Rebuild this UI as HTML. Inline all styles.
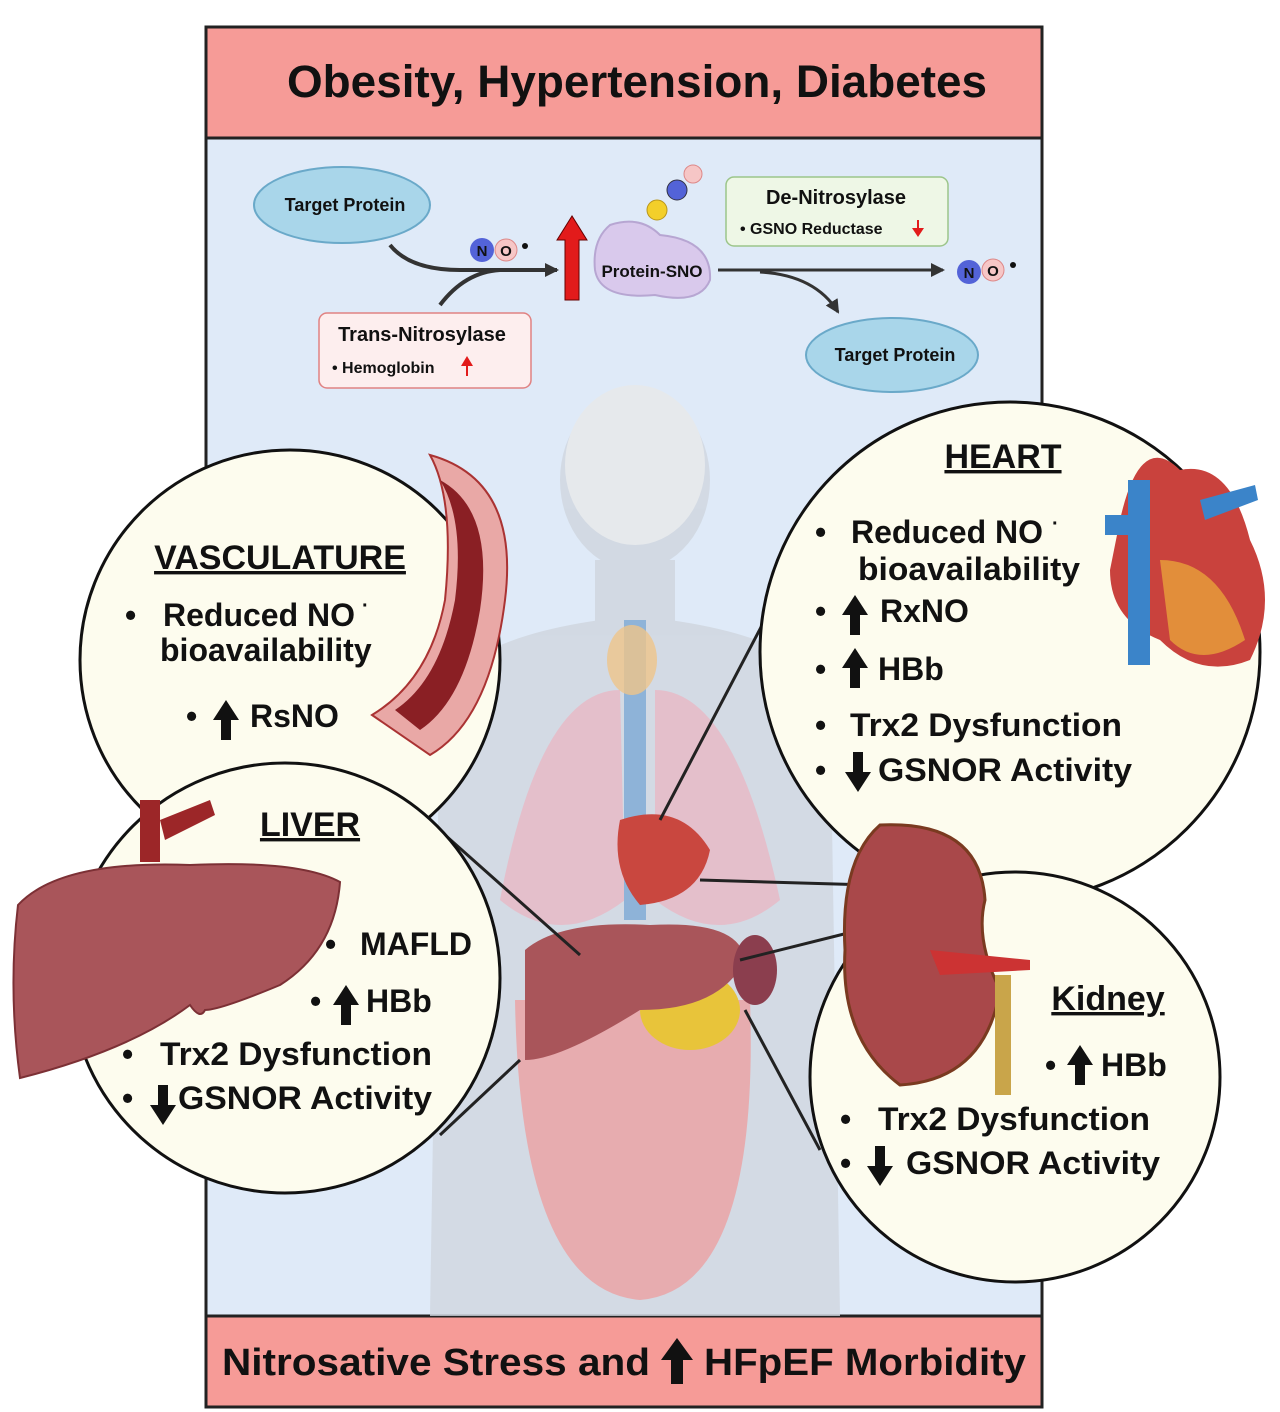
<!DOCTYPE html>
<html><head><meta charset="utf-8"><style>
html,body{margin:0;padding:0;background:#fff}
svg{display:block}
text{font-family:"Liberation Sans",sans-serif;font-weight:bold;fill:#111}
</style></head><body>
<svg width="1280" height="1412" viewBox="0 0 1280 1412" xmlns="http://www.w3.org/2000/svg">
<defs>
<marker id="ah" markerWidth="16" markerHeight="16" refX="12" refY="7" orient="auto" markerUnits="userSpaceOnUse"><path d="M0,0 L14,7 L0,14 z" fill="#333"/></marker>
</defs>
<!-- panel -->
<rect x="206" y="138" width="836" height="1178" fill="#dfeaf8"/>
<rect x="206" y="27" width="836" height="111" fill="#f69b97" stroke="#222" stroke-width="3"/>
<rect x="206" y="1316" width="836" height="91" fill="#f69b97" stroke="#222" stroke-width="3"/>
<line x1="206" y1="138" x2="206" y2="1316" stroke="#222" stroke-width="3"/>
<line x1="1042" y1="138" x2="1042" y2="1316" stroke="#222" stroke-width="3"/>
<text x="637" y="97" font-size="45" text-anchor="middle" textLength="700" lengthAdjust="spacingAndGlyphs">Obesity, Hypertension, Diabetes</text>
<text x="222" y="1375" font-size="38" textLength="428" lengthAdjust="spacingAndGlyphs">Nitrosative Stress and</text>
<text x="704" y="1375" font-size="38" textLength="322" lengthAdjust="spacingAndGlyphs">HFpEF Morbidity</text>
<path d="M677,1338 l-16,22 h10 v24 h12 v-24 h10 z" fill="#111"/>

<!-- body silhouette -->
<g fill="#cfd6de" opacity="0.8">
<ellipse cx="635" cy="480" rx="75" ry="90"/>
<rect x="595" y="560" width="80" height="70"/>
<path d="M440,700 Q460,640 600,620 L670,620 Q810,640 830,700 L840,1316 L430,1316 Z"/>
</g>
<ellipse cx="635" cy="465" rx="70" ry="80" fill="#e6e9ec"/>
<path d="M620,690 Q540,690 500,900 Q560,950 625,900 Z" fill="#e9b8c4" opacity="0.8"/>
<path d="M655,690 Q735,690 780,900 Q720,950 655,900 Z" fill="#e9b8c4" opacity="0.8"/>
<rect x="624" y="620" width="22" height="300" fill="#8eb3d8"/>
<ellipse cx="632" cy="660" rx="25" ry="35" fill="#efc48a" opacity="0.8"/>
<path d="M620,820 Q680,800 710,850 Q700,900 640,905 Q610,870 620,820Z" fill="#c9473f"/>
<path d="M515,1000 Q520,1290 640,1300 Q760,1290 750,1000 Z" fill="#eaa3a6" opacity="0.85"/>
<ellipse cx="690" cy="1010" rx="50" ry="40" fill="#e8c43a"/>
<path d="M525,950 Q560,920 650,925 Q740,920 745,960 Q720,1010 640,1010 Q560,1060 525,1060Z" fill="#a9555a"/>
<ellipse cx="755" cy="970" rx="22" ry="35" fill="#8b3e4e"/>

<g stroke="#222" stroke-width="3" fill="none">
<line x1="445" y1="835" x2="580" y2="955"/>
<line x1="520" y1="1060" x2="440" y2="1135"/>
<line x1="660" y1="820" x2="770" y2="610"/>
<line x1="700" y1="880" x2="870" y2="885"/>
<line x1="740" y1="960" x2="860" y2="930"/>
<line x1="745" y1="1010" x2="820" y2="1150"/>
</g>

<!-- top pathway -->
<ellipse cx="342" cy="205" rx="88" ry="38" fill="#a9d6ea" stroke="#6aa9c9" stroke-width="2"/>
<text x="345" y="211" font-size="18" text-anchor="middle">Target Protein</text>
<ellipse cx="892" cy="355" rx="86" ry="37" fill="#a9d6ea" stroke="#6aa9c9" stroke-width="2"/>
<text x="895" y="361" font-size="18" text-anchor="middle">Target Protein</text>
<path d="M390,245 Q410,270 460,270 L557,270" stroke="#333" stroke-width="4" fill="none" marker-end="url(#ah)"/>
<path d="M440,305 Q465,272 500,270" stroke="#333" stroke-width="4" fill="none"/>
<path d="M718,270 L943,270" stroke="#333" stroke-width="3" fill="none" marker-end="url(#ah)"/>
<path d="M760,272 Q815,275 838,312" stroke="#333" stroke-width="3" fill="none" marker-end="url(#ah)"/>
<path d="M572,216 l-15,24 h8 v60 h14 v-60 h8 z" fill="#e21b1b" stroke="#600" stroke-width="1"/>
<path d="M610,225 Q640,215 660,235 Q712,240 710,280 Q700,305 655,295 Q600,300 595,270 Q592,240 610,225Z" fill="#d9c9ec" stroke="#b7a6d2" stroke-width="2"/>
<text x="652" y="277" font-size="17" text-anchor="middle">Protein-SNO</text>
<circle cx="657" cy="210" r="10" fill="#f3cf2a" stroke="#b9961c"/><circle cx="677" cy="190" r="10" fill="#5363d8" stroke="#334"/><circle cx="693" cy="174" r="9" fill="#f6c6c6" stroke="#d88"/>
<circle cx="482" cy="250" r="12" fill="#5363d8"/><text x="482" y="256" font-size="15" text-anchor="middle">N</text>
<circle cx="506" cy="250" r="11" fill="#f6c6c6" stroke="#d88"/><text x="506" y="256" font-size="15" text-anchor="middle">O</text><circle cx="525" cy="246" r="3" fill="#111"/>
<circle cx="969" cy="272" r="12" fill="#5363d8"/><text x="969" y="278" font-size="15" text-anchor="middle">N</text>
<circle cx="993" cy="270" r="11" fill="#f6c6c6" stroke="#d88"/><text x="993" y="276" font-size="15" text-anchor="middle">O</text><circle cx="1013" cy="265" r="3" fill="#111"/>
<rect x="726" y="177" width="222" height="69" rx="8" fill="#eef7e6" stroke="#9cc58a" stroke-width="1.5"/>
<text x="836" y="204" font-size="20" text-anchor="middle">De-Nitrosylase</text>
<text x="740" y="234" font-size="16">•  GSNO Reductase</text>
<path d="M917,220 v8 h-5 l6,9 l6,-9 h-5 v-8z" fill="#e21b1b"/>
<rect x="319" y="313" width="212" height="75" rx="8" fill="#fdeeee" stroke="#e08282" stroke-width="1.5"/>
<text x="422" y="341" font-size="20" text-anchor="middle">Trans-Nitrosylase</text>
<text x="332" y="373" font-size="16">•  Hemoglobin</text>
<path d="M466,376 v-10 h-5 l6,-10 l6,10 h-5 v10z" fill="#e21b1b"/>

<!-- circles -->
<g fill="#fdfcee" stroke="#111" stroke-width="3">
<circle cx="290" cy="660" r="210"/>
<circle cx="285" cy="978" r="215"/>
<circle cx="1010" cy="652" r="250"/>
<circle cx="1015" cy="1077" r="205"/>
</g>
<path d="M430,455 Q520,480 505,600 Q490,720 430,755 L372,715 Q430,680 445,600 Q455,500 430,455Z" fill="#e9a8a6" stroke="#a33" stroke-width="2"/>
<path d="M440,480 Q495,510 480,610 Q465,700 420,730 L395,710 Q440,680 455,600 Q465,520 440,480Z" fill="#8a1f24"/>
<path d="M1120,520 Q1140,430 1180,470 Q1230,460 1250,540 Q1280,600 1250,660 Q1200,680 1160,640 Q1110,620 1110,570Z" fill="#c9423d"/>
<path d="M1160,560 Q1220,560 1245,640 Q1200,670 1170,640Z" fill="#e8a13a" opacity="0.8"/>
<rect x="1128" y="480" width="22" height="185" fill="#3b84c9"/>
<path d="M1200,500 L1255,485 L1258,500 L1205,520Z" fill="#3b84c9"/>
<path d="M1105,515 h40 v20 h-40z" fill="#3b84c9"/>
<!-- liver big -->
<path d="M18,905 Q60,860 190,865 Q300,860 340,882 Q335,950 280,985 Q220,1010 205,1010 Q200,1020 190,1005 Q130,1050 20,1078 Q8,990 18,905Z" fill="#a9555a" stroke="#7c3035" stroke-width="2"/>
<path d="M140,800 h20 v62 h-20z M160,820 L210,800 L215,815 L165,840Z" fill="#9c2628"/>
<!-- kidney -->
<path d="M880,825 Q980,820 985,900 Q975,940 1000,990 Q985,1080 900,1085 Q840,1040 845,950 Q840,860 880,825Z" fill="#a9484a" stroke="#7a3a20" stroke-width="3"/>
<path d="M930,950 L1030,960 L1030,970 L940,975Z" fill="#c33"/>
<rect x="995" y="975" width="16" height="120" fill="#c9a54a"/>

<g font-size="32">
<text x="280" y="569" text-anchor="middle" text-decoration="underline" font-size="34">VASCULATURE</text>
<text x="125" y="626">•</text><text x="163" y="626">Reduced NO</text><text x="362" y="612" font-size="20">·</text>
<text x="160" y="661">bioavailability</text>
<text x="186" y="727">•</text><text x="250" y="727">RsNO</text>
<text x="310" y="836" text-anchor="middle" text-decoration="underline" font-size="34">LIVER</text>
<text x="325" y="955">•</text><text x="360" y="955">MAFLD</text>
<text x="310" y="1012">•</text><text x="366" y="1012">HBb</text>
<text x="122" y="1065">•</text><text x="160" y="1065" textLength="272" lengthAdjust="spacingAndGlyphs">Trx2 Dysfunction</text>
<text x="122" y="1109">•</text><text x="178" y="1109" textLength="254" lengthAdjust="spacingAndGlyphs">GSNOR Activity</text>
<text x="1003" y="468" text-anchor="middle" text-decoration="underline" font-size="34">HEART</text>
<text x="815" y="543">•</text><text x="851" y="543">Reduced NO</text><text x="1052" y="530" font-size="20">·</text>
<text x="858" y="580" textLength="222" lengthAdjust="spacingAndGlyphs">bioavailability</text>
<text x="815" y="622">•</text><text x="880" y="622">RxNO</text>
<text x="815" y="680">•</text><text x="878" y="680">HBb</text>
<text x="815" y="736">•</text><text x="850" y="736" textLength="272" lengthAdjust="spacingAndGlyphs">Trx2 Dysfunction</text>
<text x="815" y="781">•</text><text x="878" y="781" textLength="254" lengthAdjust="spacingAndGlyphs">GSNOR Activity</text>
<text x="1108" y="1010" text-anchor="middle" text-decoration="underline" font-size="34">Kidney</text>
<text x="1045" y="1076">•</text><text x="1101" y="1076">HBb</text>
<text x="840" y="1130">•</text><text x="878" y="1130" textLength="272" lengthAdjust="spacingAndGlyphs">Trx2 Dysfunction</text>
<text x="840" y="1174">•</text><text x="906" y="1174" textLength="254" lengthAdjust="spacingAndGlyphs">GSNOR Activity</text>
</g>
<g fill="#111">
<path d="M226,700 l-13,20 h8 v20 h10 v-20 h8z"/>
<path d="M346,985 l-13,20 h8 v20 h10 v-20 h8z"/>
<path d="M163,1125 l-13,-20 h8 v-20 h10 v20 h8z"/>
<path d="M855,595 l-13,20 h8 v20 h10 v-20 h8z"/>
<path d="M855,648 l-13,20 h8 v20 h10 v-20 h8z"/>
<path d="M858,792 l-13,-20 h8 v-20 h10 v20 h8z"/>
<path d="M1080,1045 l-13,20 h8 v20 h10 v-20 h8z"/>
<path d="M880,1186 l-13,-20 h8 v-20 h10 v20 h8z"/>
</g>
</svg>
</body></html>
